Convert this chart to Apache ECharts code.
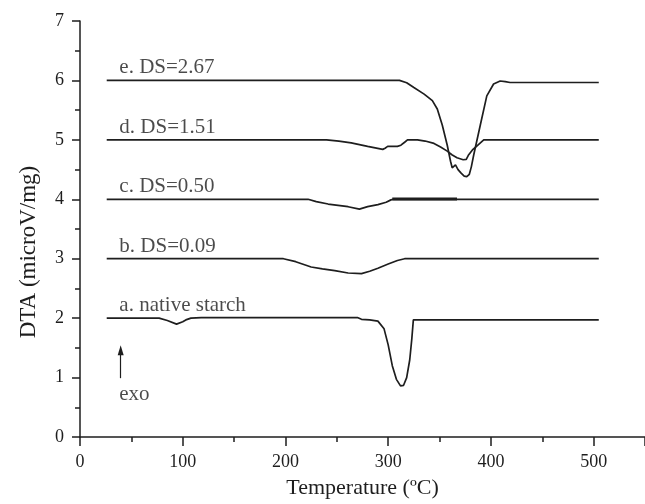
<!DOCTYPE html>
<html>
<head>
<meta charset="utf-8">
<script src="https://cdn.jsdelivr.net/npm/echarts@6/dist/echarts.min.js"></script>
<style>
  html, body { margin: 0; padding: 0; background: #fff; }
  #main { width: 645px; height: 504px; }
</style>
</head>
<body>
<div id="main"></div>
<script>
  // DTA curves, [temperature, value]
  const curveA = [[26, 2.0], [77, 2.0], [85, 1.96], [94, 1.9], [100, 1.94], [103, 1.97], [108, 2.0], [118, 2.01],
    [270, 2.01], [274, 1.98], [282, 1.97], [290, 1.95], [296, 1.82], [300, 1.55], [304, 1.2], [308, 0.97],
    [312, 0.86], [315, 0.87], [318, 1.0], [321, 1.3], [323, 1.65], [324.5, 1.97], [330, 1.97], [505, 1.97]];
  const curveB = [[26, 3.0], [198, 3.0], [210, 2.95], [225, 2.86], [236, 2.83], [248, 2.8], [261, 2.76],
    [274, 2.75], [282, 2.79], [290, 2.84], [300, 2.91], [309, 2.97], [316, 3.0], [505, 3.0]];
  const curveC = [[26, 4.0], [222, 4.0], [230, 3.96], [241.5, 3.92], [261, 3.875], [272, 3.835], [280, 3.876],
    [290, 3.91], [298, 3.95], [302.7, 3.99], [305, 4.0], [505, 4.0]];
  // noisy stretch of c, drawn as a thicker trace
  const curveCNoise = [[304, 4.004], [367, 4.004]];
  const curveD = [[26, 5.0], [240, 5.0], [252, 4.98], [264, 4.95], [280, 4.89], [294.7, 4.84], [297, 4.86],
    [299.5, 4.89], [309, 4.89], [312.4, 4.91], [316, 4.96], [318.8, 5.0], [328.5, 5.0], [336, 4.98],
    [344.6, 4.94], [351, 4.88], [357.5, 4.81], [362, 4.75], [367, 4.7], [373, 4.665], [376, 4.67],
    [378.4, 4.75], [382, 4.83], [386.5, 4.9], [393, 5.0], [505, 5.0]];
  const curveE = [[26, 6.0], [311, 6.0], [318, 5.96], [325, 5.88], [335, 5.77], [343, 5.66], [347.8, 5.52],
    [352.7, 5.245], [357.5, 4.91], [360.7, 4.64], [362.3, 4.53], [364, 4.56], [365.5, 4.58], [368, 4.5],
    [371, 4.44], [374, 4.39], [376.5, 4.38], [379, 4.42], [381, 4.55], [383.3, 4.75], [389.7, 5.25],
    [396, 5.74], [402.6, 5.94], [409, 5.99], [414, 5.98], [418.6, 5.965], [505, 5.965]];

  const curveNames = ['a. native starch', 'b. DS=0.09', 'c. DS=0.50', 'd. DS=1.51', 'e. DS=2.67'];
  const baselines = [2, 3, 4, 5, 6];
  const curves = [curveA, curveB, curveC, curveD, curveE];

  // exo arrow, [temperature, value]
  const arrowFrom = [39.6, 0.99];
  const arrowTo = [39.6, 1.46];
  const exoText = 'exo';

  const xTicks = {min: 0, max: 550, interval: 100};
  const yTicks = {min: 0, max: 7, interval: 1};

  const serif = 'Liberation Serif';
  const ink = '#1e1e1e';

  let chart = echarts.init(document.getElementById('main'));

  let series = curves.map((c, i) => ({
    name: curveNames[i],
    type: 'line',
    data: c,
    showSymbol: false,
    symbol: 'none',
    smooth: false,
    lineStyle: {color: ink, width: 1.7},
    z: 3,
  }));

  series.push({
    type: 'line',
    data: curveCNoise,
    showSymbol: false,
    symbol: 'none',
    lineStyle: {color: ink, width: 3},
    z: 3,
  });

  // curve labels, sitting just above each baseline
  series.push({
    type: 'scatter',
    symbolSize: 0,
    silent: true,
    data: curveNames.map((n, i) => ({value: [curves[i][0][0] + 12.3, baselines[i] + 0.21], name: n})),
    label: {
      show: true,
      position: 'right',
      distance: 0,
      formatter: '{b}',
      color: ink,
      fontFamily: serif,
      fontSize: 21,
    },
  });

  // exo arrow + text
  series.push({
    type: 'line',
    data: [],
    markLine: {
      silent: true,
      symbol: ['none', 'triangle'],
      symbolSize: [6, 10],
      label: {show: false},
      lineStyle: {color: ink, width: 1.2, type: 'solid'},
      data: [[{coord: arrowFrom}, {coord: arrowTo}]],
    },
  });
  series.push({
    type: 'scatter',
    symbolSize: 0,
    silent: true,
    data: [{value: [arrowFrom[0] - 1.5, arrowFrom[1] - 0.27], name: exoText}],
    label: {
      show: true,
      position: 'right',
      distance: 0,
      formatter: '{b}',
      color: ink,
      fontFamily: serif,
      fontSize: 21,
    },
  });

  let option = {
    backgroundColor: '#fff',
    animation: false,
    grid: {left: 80, right: -4, top: 21, bottom: 61},
    xAxis: {
      type: 'value',
      min: xTicks.min,
      max: xTicks.max,
      interval: xTicks.interval,
      name: 'Temperature (ºC)',
      nameLocation: 'middle',
      nameGap: 40,
      nameTextStyle: {color: ink, fontFamily: serif, fontSize: 22},
      axisLine: {show: true, lineStyle: {color: ink, width: 1.5}},
      axisTick: {show: true, inside: false, length: 9, lineStyle: {color: ink, width: 1.5}},
      minorTick: {show: true, splitNumber: 2, length: 5, lineStyle: {color: ink, width: 1.5}},
      axisLabel: {color: ink, fontFamily: serif, fontSize: 18, margin: 16, showMaxLabel: false},
      splitLine: {show: false},
    },
    yAxis: {
      type: 'value',
      min: yTicks.min,
      max: yTicks.max,
      interval: yTicks.interval,
      name: 'DTA (microV/mg)',
      nameLocation: 'middle',
      nameGap: 40,
      nameTextStyle: {color: ink, fontFamily: serif, fontSize: 23, padding: [0, 46, 0, 0]},
      axisLine: {show: true, lineStyle: {color: ink, width: 1.5}},
      axisTick: {show: true, inside: false, length: 8, lineStyle: {color: ink, width: 1.5}},
      minorTick: {show: true, splitNumber: 2, length: 5, lineStyle: {color: ink, width: 1.5}},
      axisLabel: {color: ink, fontFamily: serif, fontSize: 18, margin: 16},
      splitLine: {show: false},
    },
    series: series,
  };
  chart.setOption(option);
</script>
</body>
</html>
